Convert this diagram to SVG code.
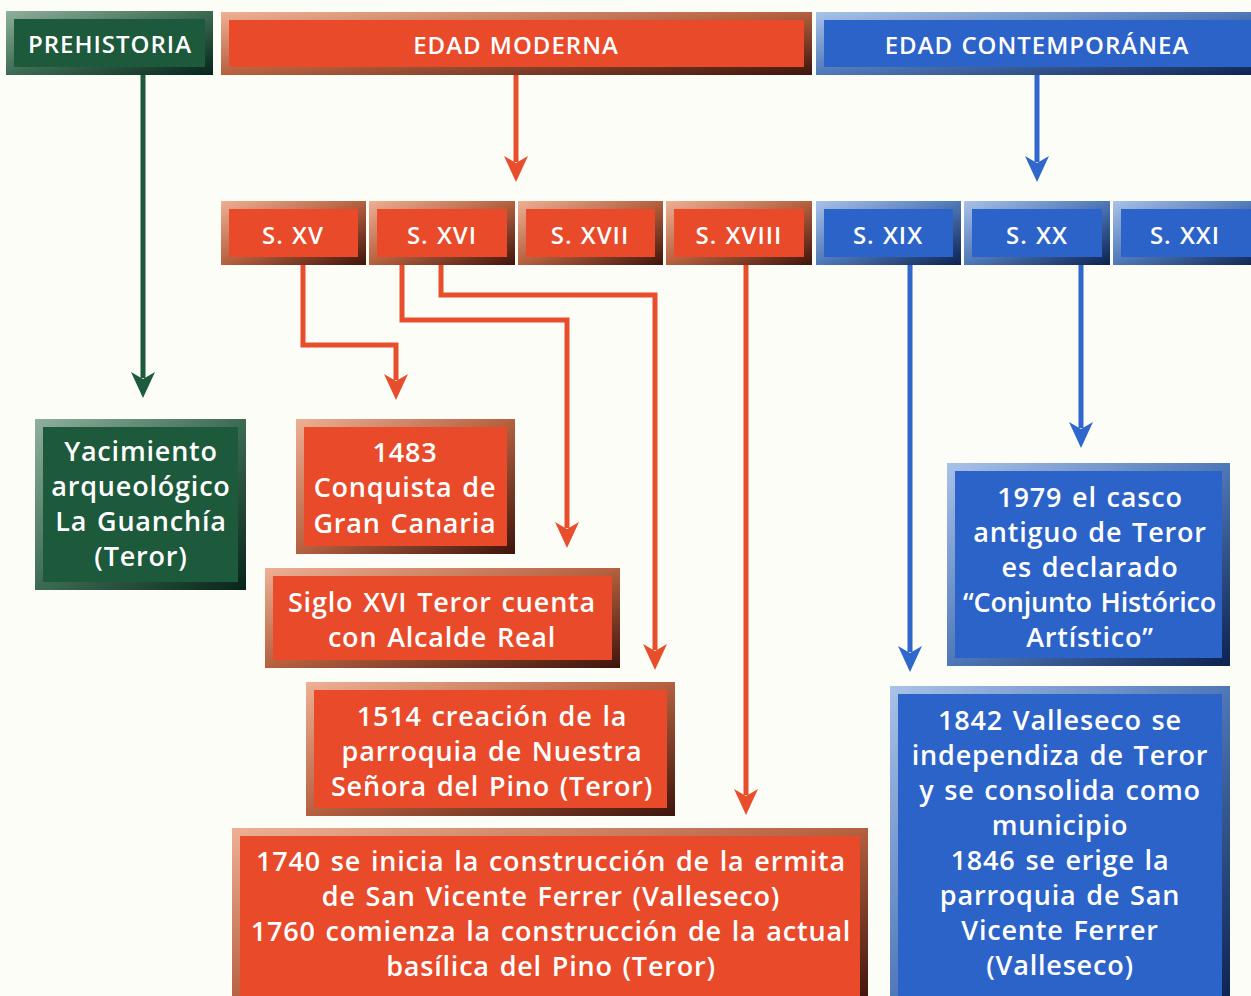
<svg xmlns="http://www.w3.org/2000/svg" width="1251" height="996" viewBox="0 0 1251 996">
<defs>
<linearGradient id="gRed" x1="0" y1="0" x2="1" y2="1"><stop offset="0" stop-color="#eeb094"/><stop offset="0.5" stop-color="#b5603f"/><stop offset="1" stop-color="#3e140c"/></linearGradient>
<linearGradient id="gBlue" x1="0" y1="0" x2="1" y2="1"><stop offset="0" stop-color="#a9c2e8"/><stop offset="0.5" stop-color="#4f78b8"/><stop offset="1" stop-color="#0c2250"/></linearGradient>
<linearGradient id="gGreen" x1="0" y1="0" x2="1" y2="1"><stop offset="0" stop-color="#8fb09c"/><stop offset="0.5" stop-color="#3d6b52"/><stop offset="1" stop-color="#06251a"/></linearGradient>
<marker id="aRed" viewBox="0 0 26 24" refX="6" refY="12" markerWidth="26" markerHeight="24" markerUnits="userSpaceOnUse" orient="auto"><path d="M0,0 L26,12 L0,24 L7,12 Z" fill="#e84e2c"/></marker>
<marker id="aBlue" viewBox="0 0 26 24" refX="6" refY="12" markerWidth="26" markerHeight="24" markerUnits="userSpaceOnUse" orient="auto"><path d="M0,0 L26,12 L0,24 L7,12 Z" fill="#2f67cc"/></marker>
<marker id="aGreen" viewBox="0 0 26 24" refX="6" refY="12" markerWidth="26" markerHeight="24" markerUnits="userSpaceOnUse" orient="auto"><path d="M0,0 L26,12 L0,24 L7,12 Z" fill="#1d5a3b"/></marker>
</defs>
<style>
text{font-family:"Open Sans","Noto Sans",sans-serif;font-weight:600;fill:#ffffff;text-anchor:middle}
.h{font-size:24px;letter-spacing:1px;word-spacing:1px}
.b{font-size:27px;letter-spacing:0.8px;word-spacing:2px}
.fr{fill:url(#gRed)} .ir{fill:#e84a2a}
.fb{fill:url(#gBlue)} .ib{fill:#2c63c9}
.fg{fill:url(#gGreen)} .ig{fill:#1c5a3b}
.cr{fill:none;stroke:#e84e2c;stroke-width:5;marker-end:url(#aRed)}
.cb{fill:none;stroke:#2f67cc;stroke-width:5;marker-end:url(#aBlue)}
.cg{fill:none;stroke:#1d5a3b;stroke-width:5;marker-end:url(#aGreen)}
</style>
<rect width="1251" height="996" fill="#fdfdf7"/>
<g id="connectors">
<path class="cg" d="M143,75 V378"/>
<path class="cr" d="M516,75 V162"/>
<path class="cb" d="M1037,75 V162"/>
<path class="cr" d="M303,265 V345 H396 V380"/>
<path class="cr" d="M402,265 V320 H567 V528"/>
<path class="cr" d="M441,265 V295 H655 V650"/>
<path class="cr" d="M746,265 V795"/>
<path class="cb" d="M910,265 V652"/>
<path class="cb" d="M1081,265 V428"/>
</g>
<g id="prehistoria"><rect class="fg" x="6" y="11" width="207" height="64"/><rect class="ig" x="14" y="19" width="191" height="48"/><text class="h" x="110" y="53">PREHISTORIA</text></g>
<g id="edad-moderna"><rect class="fr" x="221" y="12" width="591" height="63"/><rect class="ir" x="229" y="20" width="575" height="47"/><text class="h" x="516" y="54">EDAD MODERNA</text></g>
<g id="edad-contemporanea"><rect class="fb" x="816" y="12" width="445" height="63"/><rect class="ib" x="824" y="20" width="427" height="47"/><text class="h" x="1037" y="54">EDAD CONTEMPORÁNEA</text></g>
<g id="s-xv"><rect class="fr" x="221" y="201" width="145" height="64"/><rect class="ir" x="229" y="209" width="129" height="48"/><text class="h" x="293" y="244">S. XV</text></g>
<g id="s-xvi"><rect class="fr" x="369" y="201" width="146" height="64"/><rect class="ir" x="377" y="209" width="130" height="48"/><text class="h" x="442" y="244">S. XVI</text></g>
<g id="s-xvii"><rect class="fr" x="518" y="201" width="145" height="64"/><rect class="ir" x="526" y="209" width="129" height="48"/><text class="h" x="590" y="244">S. XVII</text></g>
<g id="s-xviii"><rect class="fr" x="666" y="201" width="146" height="64"/><rect class="ir" x="674" y="209" width="130" height="48"/><text class="h" x="739" y="244">S. XVIII</text></g>
<g id="s-xix"><rect class="fb" x="816" y="201" width="145" height="64"/><rect class="ib" x="824" y="209" width="129" height="48"/><text class="h" x="888" y="244">S. XIX</text></g>
<g id="s-xx"><rect class="fb" x="964" y="201" width="146" height="64"/><rect class="ib" x="972" y="209" width="130" height="48"/><text class="h" x="1037" y="244">S. XX</text></g>
<g id="s-xxi"><rect class="fb" x="1113" y="201" width="148" height="64"/><rect class="ib" x="1121" y="209" width="130" height="48"/><text class="h" x="1185" y="244">S. XXI</text></g>
<g id="yacimiento"><rect class="fg" x="35" y="419" width="211" height="171"/><rect class="ig" x="43" y="427" width="195" height="155"/>
<text class="b" x="141" y="461">Yacimiento</text><text class="b" x="141" y="496">arqueológico</text><text class="b" x="141" y="531">La Guanchía</text><text class="b" x="141" y="566">(Teror)</text></g>
<g id="n1483"><rect class="fr" x="296" y="419" width="219" height="135"/><rect class="ir" x="304" y="427" width="203" height="119"/>
<text class="b" x="405" y="462">1483</text><text class="b" x="405" y="497">Conquista de</text><text class="b" x="405" y="533">Gran Canaria</text></g>
<g id="siglo-xvi"><rect class="fr" x="265" y="568" width="355" height="100"/><rect class="ir" x="273" y="576" width="339" height="84"/>
<text class="b" x="442" y="612">Siglo XVI Teror cuenta</text><text class="b" x="442" y="647">con Alcalde Real</text></g>
<g id="n1514"><rect class="fr" x="306" y="682" width="369" height="134"/><rect class="ir" x="314" y="690" width="353" height="118"/>
<text class="b" x="492" y="726">1514 creación de la</text><text class="b" x="492" y="761">parroquia de Nuestra</text><text class="b" x="492" y="796">Señora del Pino (Teror)</text></g>
<g id="n1740"><rect class="fr" x="232" y="828" width="636" height="176"/><rect class="ir" x="240" y="836" width="620" height="160"/>
<text class="b" x="551" y="871">1740 se inicia la construcción de la ermita</text><text class="b" x="551" y="906">de San Vicente Ferrer (Valleseco)</text><text class="b" x="551" y="941">1760 comienza la construcción de la actual</text><text class="b" x="551" y="976">basílica del Pino (Teror)</text></g>
<g id="n1979"><rect class="fb" x="947" y="463" width="283" height="203"/><rect class="ib" x="955" y="471" width="267" height="187"/>
<text class="b" x="1090" y="507">1979 el casco</text><text class="b" x="1090" y="542">antiguo de Teror</text><text class="b" x="1090" y="577">es declarado</text><text class="b" x="1090" y="612" textLength="254" lengthAdjust="spacing">“Conjunto Histórico</text><text class="b" x="1090" y="647">Artístico”</text></g>
<g id="n1842"><rect class="fb" x="890" y="686" width="340" height="318"/><rect class="ib" x="898" y="694" width="324" height="302"/>
<text class="b" x="1060" y="730">1842 Valleseco se</text><text class="b" x="1060" y="765">independiza de Teror</text><text class="b" x="1060" y="800">y se consolida como</text><text class="b" x="1060" y="835">municipio</text><text class="b" x="1060" y="870">1846 se erige la</text><text class="b" x="1060" y="905">parroquia de San</text><text class="b" x="1060" y="940">Vicente Ferrer</text><text class="b" x="1060" y="975">(Valleseco)</text></g>
</svg>
